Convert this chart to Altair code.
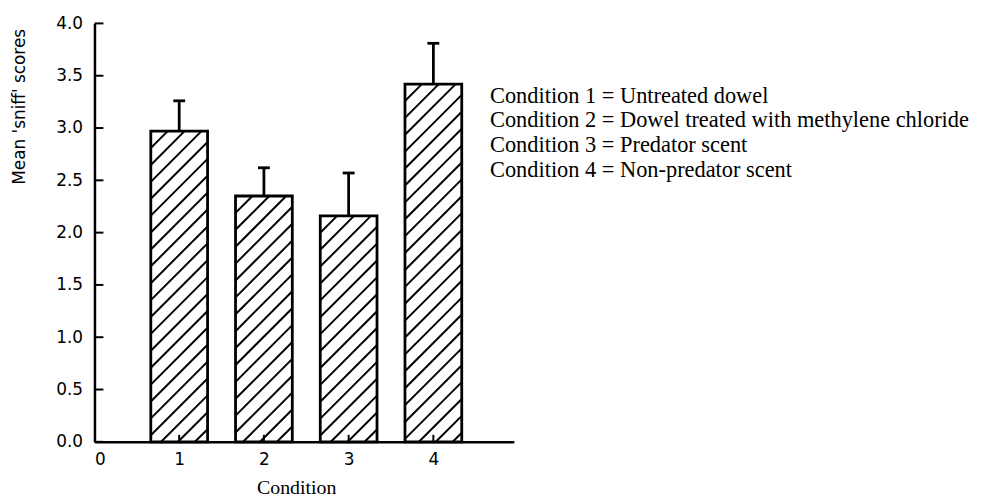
import altair as alt
import pandas as pd

conditions = [1, 2, 3, 4]
means = [2.97, 2.35, 2.16, 3.42]
upper = [3.26, 2.62, 2.57, 3.81]
y_ticks = [0.0, 0.5, 1.0, 1.5, 2.0, 2.5, 3.0, 3.5, 4.0]
x_labels = [0, 1, 2, 3, 4]
legend_lines = [
    "Condition 1 = Untreated dowel",
    "Condition 2 = Dowel treated with methylene chloride",
    "Condition 3 = Predator scent",
    "Condition 4 = Non-predator scent",
]

XMAX, YMAX = 4.95, 4.0
W, H = 422, 421
HALF = 0.335
CAP = 0.07
px_x = W / XMAX
px_y = H / YMAX

bars = pd.DataFrame({
    "cond": conditions,
    "x0": [c - HALF for c in conditions],
    "x1": [c + HALF for c in conditions],
    "mean": means,
    "upper": upper,
    "c0": [c - CAP for c in conditions],
    "c1": [c + CAP for c in conditions],
})

# hatch segments derived from each bar's extent
rows = []
spacing = 17.0
for c, v in zip(conditions, means):
    bw = 2 * HALF * px_x
    bh = v * px_y
    k = -bh
    while k < bw:
        tmin = max(0.0, -k)
        tmax = min(bh, bw - k)
        if tmax > tmin:
            rows.append({
                "hx": c - HALF + (tmin + k) / px_x,
                "hy": tmin / px_y,
                "hx2": c - HALF + (tmax + k) / px_x,
                "hy2": tmax / px_y,
            })
        k += spacing
hatch = pd.DataFrame(rows)

xs = alt.Scale(domain=[0, XMAX], nice=False, zero=False)
ys = alt.Scale(domain=[0, YMAX], nice=False)

x_axis = alt.Axis(
    values=x_labels, title="Condition", tickSize=0, grid=False,
    domainColor="black", domainWidth=2.5, labelFont="DejaVu Sans",
    labelFontSize=17, labelColor="black", labelPadding=10, format="d",
    titleFont="Liberation Serif", titleFontSize=20, titleFontWeight="normal",
    titleColor="black", titleX=W / 2 - 8, titleY=52, titleBaseline="alphabetic")
y_axis = alt.Axis(
    values=y_ticks, title="Mean 'sniff' scores", tickSize=0, grid=False,
    domainColor="black", domainWidth=2.5, labelFont="DejaVu Sans",
    labelFontSize=17, labelColor="black", labelPadding=12, format=".1f",
    titleFont="DejaVu Sans", titleFontSize=17, titleFontWeight="normal",
    titleColor="black", titleAngle=270, titleX=-75, titleY=5,
    titleAlign="right", titleBaseline="middle")

base = alt.Chart(bars)

bar = base.mark_bar(fill="white", stroke="black", strokeWidth=2.8).encode(
    x=alt.X("x0:Q", scale=xs, axis=x_axis, title="Condition"),
    x2="x1:Q",
    y=alt.Y("mean:Q", scale=ys, axis=y_axis, title="Mean 'sniff' scores"),
    y2=alt.datum(0),
)

hatch_layer = alt.Chart(hatch).mark_rule(color="black", strokeWidth=2).encode(
    x=alt.X("hx:Q", scale=xs, title="Condition"),
    y=alt.Y("hy:Q", scale=ys, title="Mean 'sniff' scores"),
    x2="hx2:Q",
    y2="hy2:Q",
)

err = base.mark_rule(color="black", strokeWidth=2.8).encode(
    x=alt.X("cond:Q", scale=xs, title="Condition"),
    y=alt.Y("mean:Q", scale=ys, title="Mean 'sniff' scores"),
    y2="upper:Q",
)

caps = base.mark_rule(color="black", strokeWidth=2.8).encode(
    x=alt.X("c0:Q", scale=xs, title="Condition"),
    x2="c1:Q",
    y=alt.Y("upper:Q", scale=ys, title="Mean 'sniff' scores"),
)

yt = alt.Chart(pd.DataFrame({"v": y_ticks})).mark_rule(color="black", strokeWidth=2).encode(
    y=alt.Y("v:Q", scale=ys, title="Mean 'sniff' scores"),
    x=alt.value(0),
    x2=alt.value(9),
)

xt = alt.Chart(pd.DataFrame({"c": conditions})).mark_rule(color="black", strokeWidth=2).encode(
    x=alt.X("c:Q", scale=xs, title="Condition"),
    y=alt.value(H),
    y2=alt.value(H - 7),
)

legend = alt.Chart(pd.DataFrame({"t": [legend_lines]})).mark_text(
    align="left", baseline="top", font="Liberation Serif", fontSize=22.5,
    lineHeight=24.7, color="black",
).encode(
    text="t:N",
    x=alt.value(398),
    y=alt.value(62),
)

chart = alt.layer(bar, hatch_layer, err, caps, yt, xt, legend).properties(
    width=W, height=H,
    padding={"left": 87, "top": 14, "right": 462, "bottom": 54},
    autosize=alt.AutoSizeParams(type="none"),
).configure(background="white").configure_view(stroke=None)

chart.save("out.html", embed_options={"renderer": "svg", "actions": False})
